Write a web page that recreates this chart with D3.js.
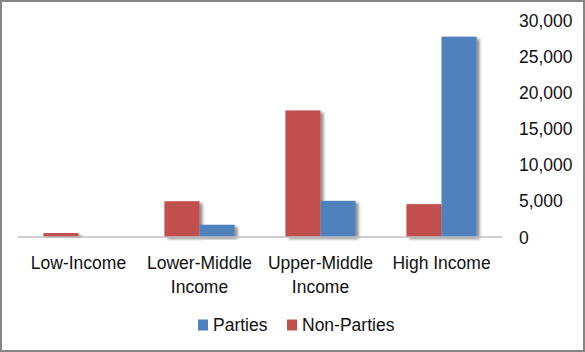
<!DOCTYPE html>
<html>
<head>
<meta charset="utf-8">
<script src="https://cdn.jsdelivr.net/npm/d3@7/dist/d3.min.js"></script>
<style>
  html, body { margin: 0; padding: 0; background: #fff; }
  svg { display: block; }
  text { font-family: "Liberation Sans", Arial, sans-serif; fill: #111; }
</style>
</head>
<body>
<div id="chart"></div>
<script>
// Chart data
const categories = ["Low-Income", "Lower-Middle Income", "Upper-Middle Income", "High Income"]
const labelLines = [["Low-Income"], ["Lower-Middle", "Income"], ["Upper-Middle", "Income"], ["High Income"]]
const seriesNames = ["Non-Parties", "Parties"]
const nonParties = [550, 4950, 17500, 4550]
const parties = [0, 1700, 5000, 27700]
const yTicks = [0, 5000, 10000, 15000, 20000, 25000, 30000]
const legendOrder = ["Parties", "Non-Parties"]

const colors = { "Parties": "#4F81BD", "Non-Parties": "#C0504D" }

const width = 585, height = 352
const plot = { left: 18, right: 502, top: 20, bottom: 237 }

const svg = d3.select("#chart").append("svg")
  .attr("width", width)
  .attr("height", height)

// Soft drop shadow like the spreadsheet bars
const defs = svg.append("defs")
const shadow = defs.append("filter")
  .attr("id", "bar-shadow")
  .attr("x", "-20%").attr("y", "-10%")
  .attr("width", "150%").attr("height", "130%")
shadow.append("feGaussianBlur").attr("in", "SourceAlpha").attr("stdDeviation", 1.6).attr("result", "blur")
shadow.append("feOffset").attr("in", "blur").attr("dx", 3).attr("dy", 2).attr("result", "off")
shadow.append("feComponentTransfer").attr("in", "off").attr("result", "shade")
  .append("feFuncA").attr("type", "linear").attr("slope", 0.45)
const merge = shadow.append("feMerge")
merge.append("feMergeNode").attr("in", "shade")
merge.append("feMergeNode").attr("in", "SourceGraphic")

// Outer frame
svg.append("rect")
  .attr("x", 1).attr("y", 1)
  .attr("width", width - 2).attr("height", height - 2)
  .attr("fill", "#fff")
  .attr("stroke", "#868686")
  .attr("stroke-width", 2)

const x = d3.scaleBand()
  .domain(categories)
  .range([plot.left, plot.right])
  .paddingInner(0.42)
  .paddingOuter(0.21)

const xSub = d3.scaleBand()
  .domain(seriesNames)
  .range([0, x.bandwidth()])

const y = d3.scaleLinear()
  .domain([0, 30000])
  .range([plot.bottom, plot.top])

const rows = categories.map((c, i) => ({
  category: c,
  values: [
    { series: "Non-Parties", value: nonParties[i] },
    { series: "Parties", value: parties[i] }
  ]
}))

// Bars
const groups = svg.append("g")
  .selectAll("g")
  .data(rows)
  .join("g")
  .attr("transform", d => `translate(${x(d.category)},0)`)

groups.selectAll("rect")
  .data(d => d.values.filter(v => v.value > 0))
  .join("rect")
  .attr("x", v => xSub(v.series))
  .attr("y", v => y(v.value))
  .attr("width", xSub.bandwidth())
  .attr("height", v => y(0) - y(v.value))
  .attr("fill", v => colors[v.series])
  .attr("filter", "url(#bar-shadow)")

// Zero line
svg.append("line")
  .attr("x1", plot.left).attr("x2", plot.right)
  .attr("y1", y(0)).attr("y2", y(0))
  .attr("stroke", "#BFBFBF")
  .attr("stroke-width", 1.5)

// Right-side value axis (labels only)
const yAxis = d3.axisRight(y)
  .tickValues(yTicks)
  .tickSize(0)
  .tickPadding(0)
  .tickFormat(d3.format(","))

const yg = svg.append("g")
  .attr("transform", `translate(519,0)`)
  .call(yAxis)
yg.select(".domain").remove()
yg.selectAll("text")
  .attr("font-size", 17.5)
  .attr("font-family", "Liberation Sans, Arial, sans-serif")
  .attr("fill", "#111")
  .attr("dy", "0.35em")

// Category labels
const catLabels = svg.append("g")
  .selectAll("text")
  .data(categories)
  .join("text")
  .attr("x", d => x(d) + x.bandwidth() / 2)
  .attr("y", 269)
  .attr("text-anchor", "middle")
  .attr("font-size", 17.5)

catLabels.selectAll("tspan")
  .data((d, i) => labelLines[i])
  .join("tspan")
  .attr("x", function () { return d3.select(this.parentNode).attr("x") })
  .attr("dy", (d, i) => i === 0 ? 0 : 24)
  .text(d => d)

// Legend
const legendItems = [
  { name: "Parties", x: 198 },
  { name: "Non-Parties", x: 287 }
]
const legend = svg.append("g")
  .selectAll("g")
  .data(legendOrder.map(n => legendItems.find(l => l.name === n)))
  .join("g")
  .attr("transform", d => `translate(${d.x},325)`)

legend.append("rect")
  .attr("x", 0).attr("y", -5.5)
  .attr("width", 10).attr("height", 11)
  .attr("fill", d => colors[d.name])

legend.append("text")
  .attr("x", 15)
  .attr("y", 0)
  .attr("dy", "0.35em")
  .attr("font-size", 17.5)
  .text(d => d.name)
</script>
</body>
</html>
